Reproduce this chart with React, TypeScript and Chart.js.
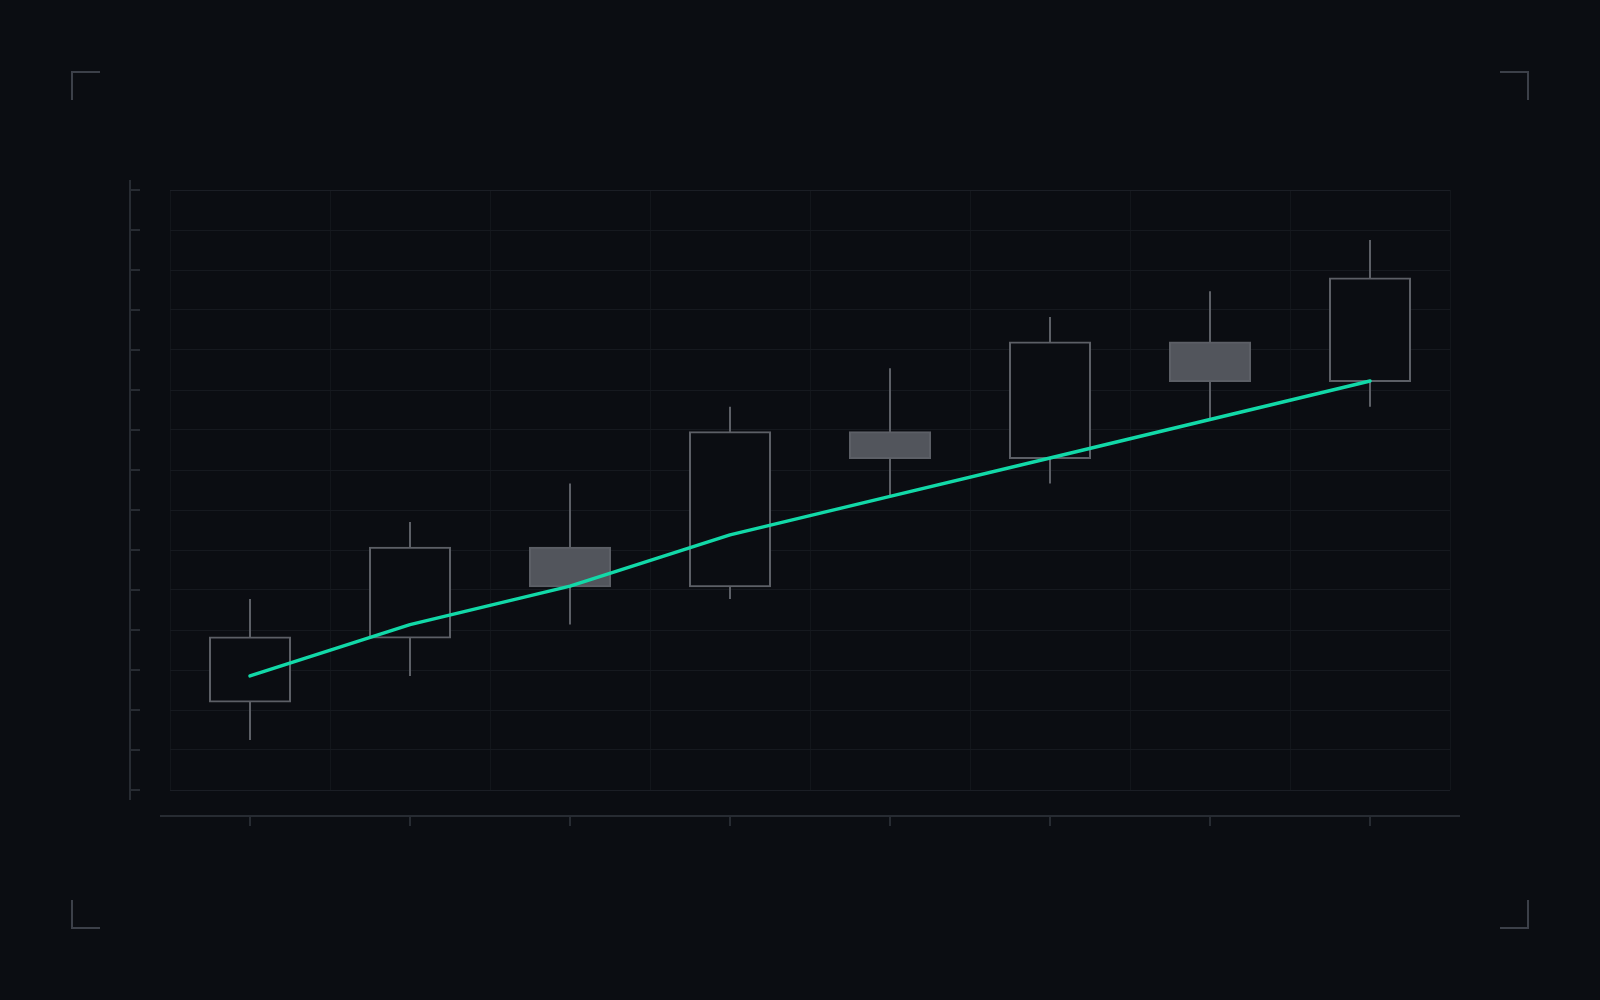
import React, { useEffect, useRef } from "react";
import { Chart, registerables } from "chart.js";

Chart.register(...registerables);

// ---- data ----
const categories = ["P1", "P2", "P3", "P4", "P5", "P6", "P7", "P8"];
const opens = [100, 105, 112, 109, 121, 119, 128, 125];
const closes = [105, 112, 109, 121, 119, 128, 125, 133];
const highs = [108, 114, 117, 123, 126, 130, 132, 136];
const lows = [97, 102, 106, 108, 116, 117, 122, 123];
const trend = [102, 106, 109, 113, 116, 119, 122, 125];
const yMin = 93.1;
const yMax = 139.9;
const yDivisions = 15;

// ---- style ----
const BG = "#0b0d12";
const GRID_H = "#16191f";
const GRID_H_EDGE = "#1b1e25";
const GRID_V = "#13161b";
const AXIS = "#272b32";
const BRACKET = "#3c4049";
const CANDLE_EDGE = "#5c5f66";
const CANDLE_DOWN = "#52555c";
const TREND = "#12d9a8";

const decorPlugin = {
  id: "decor",
  beforeDraw(chart: any) {
    const { ctx, width, height } = chart;
    ctx.save();
    ctx.fillStyle = BG;
    ctx.fillRect(0, 0, width, height);
    ctx.restore();
  },
  afterDraw(chart: any) {
    const { ctx, chartArea: a, scales, width, height } = chart;
    const x = scales.x;
    const y = scales.y;
    ctx.save();
    ctx.strokeStyle = AXIS;
    ctx.lineWidth = 2;
    ctx.lineCap = "butt";
    // detached y axis
    const ax = a.left - 40;
    ctx.beginPath();
    ctx.moveTo(ax, a.top - 10);
    ctx.lineTo(ax, a.bottom + 10);
    y.ticks.forEach((t: any) => {
      const py = Math.round(y.getPixelForValue(t.value));
      ctx.moveTo(ax, py);
      ctx.lineTo(ax + 10, py);
    });
    ctx.stroke();
    // detached x axis
    const ay = a.bottom + 26;
    ctx.beginPath();
    ctx.moveTo(a.left - 10, ay);
    ctx.lineTo(a.right + 10, ay);
    categories.forEach((_, i) => {
      const px = Math.round(x.getPixelForTick(i));
      ctx.moveTo(px, ay);
      ctx.lineTo(px, ay + 10);
    });
    ctx.stroke();

    // corner brackets
    const m = 72;
    const L = 28;
    ctx.strokeStyle = BRACKET;
    ctx.beginPath();
    ctx.moveTo(m, m + L); ctx.lineTo(m, m); ctx.lineTo(m + L, m);
    ctx.moveTo(width - m - L, m); ctx.lineTo(width - m, m); ctx.lineTo(width - m, m + L);
    ctx.moveTo(m, height - m - L); ctx.lineTo(m, height - m); ctx.lineTo(m + L, height - m);
    ctx.moveTo(width - m - L, height - m); ctx.lineTo(width - m, height - m); ctx.lineTo(width - m, height - m - L);
    ctx.stroke();
    ctx.restore();
  },
};

export default function App() {
  const canvasRef = useRef<HTMLCanvasElement | null>(null);

  useEffect(() => {
    document.body.style.margin = "0";
    document.body.style.background = BG;
    const canvas = canvasRef.current;
    if (!canvas) return;

    const bodies = opens.map((o, i) => [o, closes[i]]);
    const wicks = lows.map((l, i) => [l, highs[i]]);
    const bodyFill = opens.map((o, i) => (closes[i] >= o ? BG : CANDLE_DOWN));

    const chart = new Chart(canvas, {
      type: "bar",
      data: {
        labels: categories,
        datasets: [
          {
            type: "line",
            data: trend,
            borderColor: TREND,
            borderWidth: 3.5,
            pointRadius: 0,
            pointHoverRadius: 0,
            tension: 0,
            borderCapStyle: "round",
            borderJoinStyle: "round",
            fill: false,
            order: 0,
          } as any,
          {
            type: "bar",
            data: bodies,
            backgroundColor: bodyFill,
            borderColor: CANDLE_EDGE,
            borderWidth: 2,
            borderSkipped: false,
            inflateAmount: 1,
            barPercentage: 0.5,
            categoryPercentage: 1,
            grouped: false,
            order: 1,
          } as any,
          {
            type: "bar",
            data: wicks,
            backgroundColor: CANDLE_EDGE,
            borderWidth: 0,
            inflateAmount: 0,
            barThickness: 2,
            grouped: false,
            order: 2,
          } as any,
        ],
      },
      options: {
        animation: false,
        responsive: true,
        maintainAspectRatio: false,
        layout: { padding: { left: 170, right: 150, top: 190, bottom: 210 } },
        plugins: {
          legend: { display: false },
          tooltip: { enabled: false },
        },
        scales: {
          x: {
            offset: true,
            grid: {
              offset: true,
              color: GRID_V,
              lineWidth: 1,
              drawTicks: false,
            },
            border: { display: false },
            ticks: { display: false },
          },
          y: {
            min: yMin,
            max: yMax,
            afterBuildTicks: (scale: any) => {
              const ticks = [];
              for (let i = 0; i <= yDivisions; i++) {
                ticks.push({ value: yMin + ((yMax - yMin) * i) / yDivisions });
              }
              scale.ticks = ticks;
            },
            grid: {
              color: (ctx: any) =>
                ctx.index === 0 || ctx.index === yDivisions ? GRID_H_EDGE : GRID_H,
              lineWidth: 1,
              drawTicks: false,
            },
            border: { display: false },
            ticks: { display: false },
          },
        },
      },
      plugins: [decorPlugin],
    } as any);

    return () => chart.destroy();
  }, []);

  return (
    <div style={{ width: 1600, height: 1000, position: "relative", background: BG }}>
      <canvas ref={canvasRef} />
    </div>
  );
}
